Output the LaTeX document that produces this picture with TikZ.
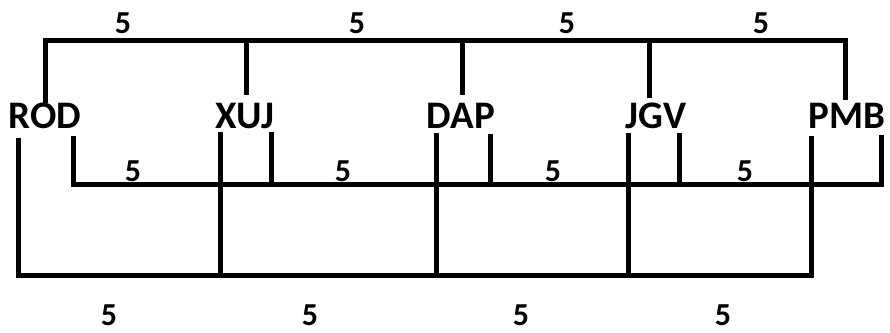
\documentclass[tikz,border=0pt]{standalone}
\usepackage{fontspec}
\setmainfont{Carlito}
\begin{document}
\begin{tikzpicture}[x=1pt,y=-1pt,
  citybox/.style={anchor=base,inner sep=0pt,font=\bfseries\fontsize{39}{39}\selectfont},
  wt/.style={anchor=base,inner sep=0pt,font=\bfseries\fontsize{32}{32}\selectfont},
  conn/.style={draw=black,line width=5pt,line cap=rect}]
\useasboundingbox (0,0) rectangle (890,332);
% nodes
\node[citybox] (ROD) at (45,128) {ROD};
\node[citybox] (XUJ) at (245,128) {XUJ};
\node[citybox] (DAP) at (461,128) {DAP};
\node[citybox] (JGV) at (656,128) {JGV};
\node[citybox] (PMB) at (847,128) {PMB};
% weight labels
\node[wt] (w1) at (123,33) {5};
\node[wt] (w2) at (357,33) {5};
\node[wt] (w3) at (567,33) {5};
\node[wt] (w4) at (761,33) {5};
\node[wt] (w5) at (133,181) {5};
\node[wt] (w6) at (343,181) {5};
\node[wt] (w7) at (553,181) {5};
\node[wt] (w8) at (745,181) {5};
\node[wt] (w9) at (109,325) {5};
\node[wt] (w10) at (310,325) {5};
\node[wt] (w11) at (521,325) {5};
\node[wt] (w12) at (723,325) {5};
% top tier
\coordinate (RODt) at (45,100);
\coordinate (XUJt) at (246,92);
\coordinate (DAPt) at (462,92);
\coordinate (JGVt) at (649,95);
\coordinate (PMBt) at (845,97);
\coordinate (topL) at (45,40);
\coordinate (topR) at (845,40);
\draw[conn] (RODt) -- (topL) -- (topR) -- (PMBt);
\draw[conn] (XUJt) -- (XUJt |- topL);
\draw[conn] (DAPt) -- (DAPt |- topL);
\draw[conn] (JGVt) -- (JGVt |- topL);
% middle tier
\coordinate (RODr) at (73,138);
\coordinate (XUJr) at (271,134);
\coordinate (DAPr) at (490,136);
\coordinate (JGVr) at (679,135);
\coordinate (PMBr) at (881,137);
\coordinate (midL) at (73,184);
\coordinate (midR) at (881,184);
\draw[conn] (RODr) -- (midL) -- (midR) -- (PMBr);
\draw[conn] (XUJr) -- (XUJr |- midL);
\draw[conn] (DAPr) -- (DAPr |- midL);
\draw[conn] (JGVr) -- (JGVr |- midL);
% bottom tier
\coordinate (RODl) at (18,140);
\coordinate (XUJl) at (220,134);
\coordinate (DAPl) at (436,135);
\coordinate (JGVl) at (628,135);
\coordinate (PMBl) at (811,138);
\coordinate (botL) at (18,275);
\coordinate (botR) at (811,275);
\draw[conn] (RODl) -- (botL) -- (botR) -- (PMBl);
\draw[conn] (XUJl) -- (XUJl |- botL);
\draw[conn] (DAPl) -- (DAPl |- botL);
\draw[conn] (JGVl) -- (JGVl |- botL);
\end{tikzpicture}
\end{document}
